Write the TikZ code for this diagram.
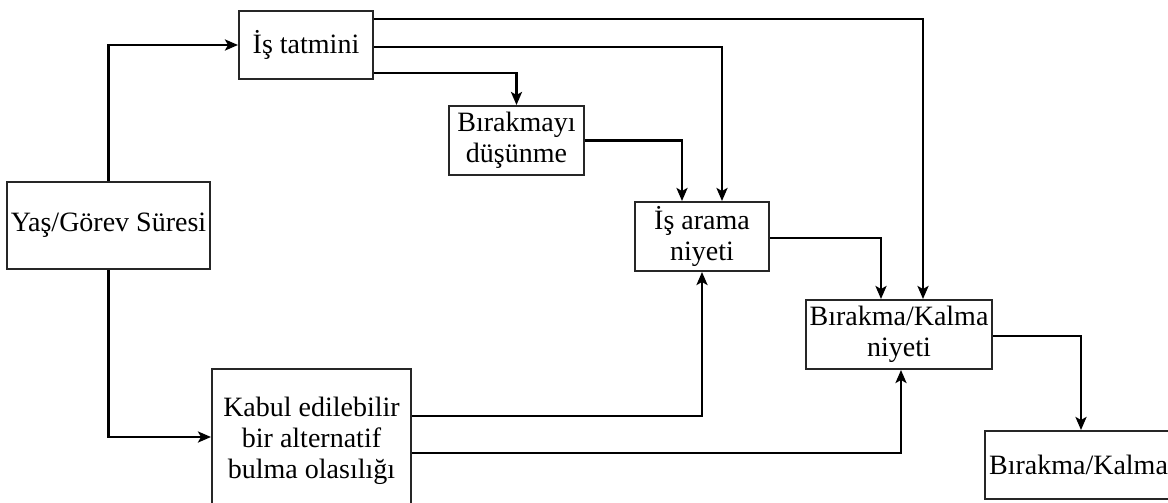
\documentclass[tikz,border=0pt]{standalone}
\usepackage{fontspec}
\setmainfont{Liberation Serif}
\usetikzlibrary{arrows.meta}
\tikzset{
  box/.style={draw=black!85, line width=2pt, fill=white, align=center,
    inner sep=4pt, font=\fontsize{28}{31}\selectfont},
  arr/.style={draw=black, line width=2.8pt,
    -{Stealth[length=13pt,width=11pt,inset=3pt]}},
}
\begin{document}
\begin{tikzpicture}[x=1pt,y=-1pt]
\useasboundingbox (0,0) rectangle (1168,503);
\clip (0,0) rectangle (1168,503);
\fill[white] (0,0) rectangle (1168,503);

% boxes
\node[box, minimum width=134pt, minimum height=68pt] (sat) at (306,45) {İş tatmini};
\node[box, minimum width=199pt, minimum height=87pt] (yas) at (108.5,225.5) {Yaş/Görev Süresi};
\node[box, minimum width=135pt, minimum height=69pt] (bir) at (516.5,140.5) {Bırakmayı\\düşünme};
\node[box, minimum width=134pt, minimum height=69pt] (ara) at (702,236.5) {İş arama\\niyeti};
\node[box, minimum width=182pt, minimum height=69pt] (niy) at (899,334.5) {Bırakma/Kalma\\niyeti};
\node[box, minimum width=199pt, minimum height=144pt] (kab) at (311.5,441) {Kabul edilebilir\\bir alternatif\\bulma olasılığı};
\node[box, minimum width=183pt, minimum height=68pt] (bk) at (1078.5,465) {Bırakma/Kalma};

% connectors
\draw[arr] (yas.north) |- (sat.west);
\draw[arr] (yas.south) |- ([yshift=4pt]kab.west);
\draw[arr] ([yshift=26pt]sat.east) -| ([xshift=24pt]niy.north);
\draw[arr] ([yshift=-2pt]sat.east) -| ([xshift=20pt]ara.north);
\draw[arr] ([yshift=-28pt]sat.east) -| (bir.north);
\draw[arr] (bir.east) -| ([xshift=-20pt]ara.north);
\draw[arr] ([yshift=-1.5pt]ara.east) -| ([xshift=-18pt]niy.north);
\draw[arr] ([yshift=25pt]kab.east) -| (ara.south);
\draw[arr] ([yshift=-12pt]kab.east) -| ([xshift=2pt]niy.south);
\draw[arr] ([yshift=-1.5pt]niy.east) -| ([xshift=2.5pt]bk.north);
\end{tikzpicture}
\end{document}
